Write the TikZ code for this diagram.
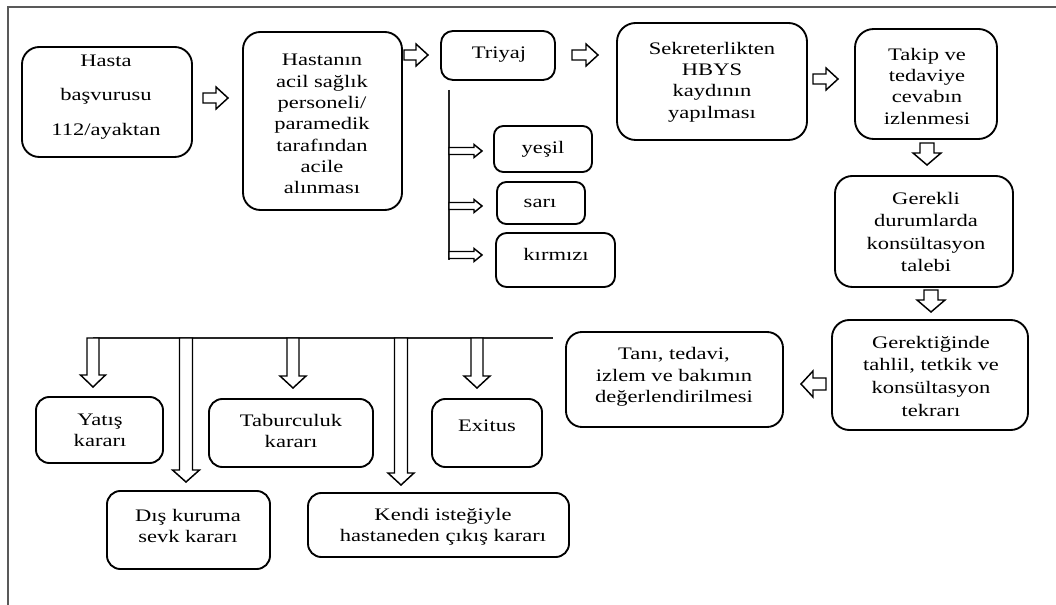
\documentclass[tikz,border=0pt]{standalone}
\usepackage{fontspec}
\setmainfont{Liberation Serif}[FakeStretch=1.28]
\usetikzlibrary{fit}
\tikzset{
  box/.style={draw=black, line width=1.4pt, rounded corners=#1, inner sep=0pt},
  box/.default=12pt,
  txt/.style={align=center, inner sep=0pt, font=\fontsize{13.2pt}{16pt}\selectfont},
  arrowline/.style={draw=black, line width=1.1pt, fill=white, line join=miter},
  branch/.style={line width=0.9pt, draw=black!85},
  frameline/.style={line width=1.3pt, draw=black!65},
  pics/barrow/.style n args={4}{code={
    \draw[arrowline] (0,{-#2}) -- ({#1-#4},{-#2}) -- ({#1-#4},{-#3}) -- (#1,0)
      -- ({#1-#4},#3) -- ({#1-#4},#2) -- (0,#2) -- cycle;
  }}
}
\begin{document}
\begin{tikzpicture}[x=0.75pt, y=-0.75pt]
\useasboundingbox (0,0) rectangle (1056,605);
% frame
\coordinate (f0) at (8,605);
\coordinate (f1) at (8,7);
\coordinate (f2) at (1056,7);
\draw[frameline] (f0) -- (f1) -- (f2);

% boxes
\node[box=13pt, fit={(22,47) (192,157)}] (b1) {};
\node[box=13pt, fit={(243,32) (402,210)}] (b2) {};
\node[box=9pt, fit={(441,31) (555,80)}] (tri) {};
\node[box=14pt, fit={(617,23) (807,140)}] (sek) {};
\node[box=14pt, fit={(855,29) (997,139)}] (tak) {};
\node[box=13pt, fit={(835,176) (1013,287)}] (ger) {};
\node[box=13pt, fit={(832,320) (1028,430)}] (gtk) {};
\node[box=12pt, fit={(566,332) (783,427)}] (tan) {};
\node[box=7pt, fit={(494,126) (592,172)}] (yes) {};
\node[box=7pt, fit={(497,182) (585,224)}] (sar) {};
\node[box=8pt, fit={(496,233) (615,287)}] (kir) {};
\node[box=10pt, fit={(36,397) (163,463)}] (yat) {};
\node[box=10pt, fit={(209,399) (373,467)}] (tab) {};
\node[box=10pt, fit={(432,399) (542,467)}] (exi) {};
\node[box=10pt, fit={(107,491) (270,569)}] (dis) {};
\node[box=10pt, fit={(308,493) (569,557)}] (ken) {};

% texts
\node[txt] (b1t) at (106,97) {Hasta\\[9.5pt]başvurusu\\[10pt]112/ayaktan};
\node[txt] (b2t) at (322,124) {Hastanın\\acil sağlık\\personeli/\\paramedik\\tarafından\\acile\\alınması};
\node[txt] (trit) at (499,55) {Triyaj};
\node[txt] (sekt) at (712,82) {Sekreterlikten\\HBYS\\kaydının\\yapılması};
\node[txt] (takt) at (927,86) {Takip ve\\tedaviye\\cevabın\\izlenmesi};
\node[txt, font=\fontsize{13.2pt}{16.8pt}\selectfont] (gert) at (926,232) {Gerekli\\durumlarda\\konsültasyon\\talebi};
\node[txt, font=\fontsize{13.2pt}{17pt}\selectfont] (gtkt) at (931,376) {Gerektiğinde\\tahlil, tetkik ve\\konsültasyon\\tekrarı};
\node[txt] (tant) at (674,377) {Tanı, tedavi,\\izlem ve bakımın\\değerlendirilmesi};
\node[txt] (yest) at (543,149) {yeşil};
\node[txt] (sart) at (540,203) {sarı};
\node[txt] (kirt) at (556,254) {kırmızı};
\node[txt] (yatt) at (100,430) {Yatış\\kararı};
\node[txt] (tabt) at (291,431) {Taburculuk\\kararı};
\node[txt] (exit) at (487,426) {Exitus};
\node[txt] (dist) at (188,526) {Dış kuruma\\sevk kararı};
\node[txt] (kent) at (443,527) {Kendi isteğiyle\\hastaneden çıkış kararı};

% branch lines
\coordinate (tv1) at (449,90);
\coordinate (tv2) at (449,260);
\draw[branch] (tv1) -- (tv2);
\coordinate (hl1) at (93,338);
\coordinate (hl2) at (553,338);
\draw[branch] (hl1) -- (hl2);

% block arrows along the main flow
\pic at (203,98) {barrow={25}{5}{11}{12}};
\pic at (404,55) {barrow={24}{5}{11}{12}};
\pic at (572,55) {barrow={26}{5}{11}{12}};
\pic at (813,79) {barrow={25}{5}{11}{12}};
\pic[rotate=-90] at (927,143) {barrow={22}{7}{14}{12}};
\pic[rotate=-90] at (931,290) {barrow={22}{7}{14}{12}};
\pic[rotate=180] at (826,384) {barrow={25}{6}{13}{12}};

% triage arrows
\pic at (449,151) {barrow={33}{3.5}{6.5}{8}};
\pic at (449,206) {barrow={33}{3.5}{6.5}{8}};
\pic at (449,255) {barrow={33}{3.5}{6.5}{8}};

% decision arrows
\pic[rotate=-90] at (93,338) {barrow={49}{6}{12.5}{12}};
\pic[rotate=-90] at (186,338) {barrow={144}{6.5}{13.5}{12}};
\pic[rotate=-90] at (293,338) {barrow={50}{6}{13}{12}};
\pic[rotate=-90] at (401,338) {barrow={147}{6.5}{13}{12}};
\pic[rotate=-90] at (477,338) {barrow={50}{6}{13}{12}};
\end{tikzpicture}
\end{document}
